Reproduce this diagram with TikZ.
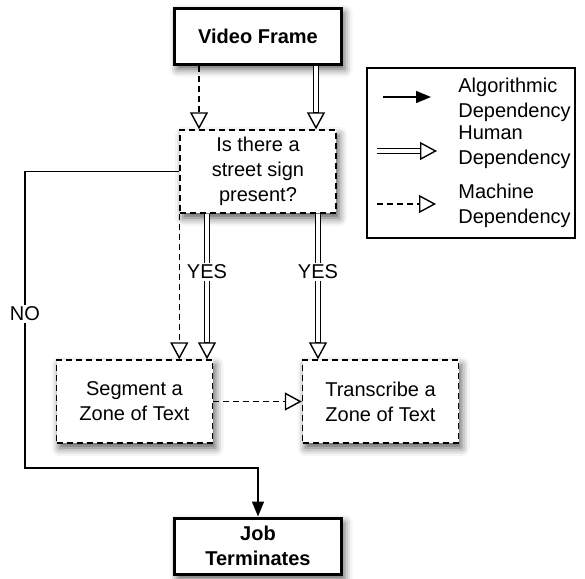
\documentclass[tikz,border=0pt]{standalone}
\usepackage{fontspec}
\setmainfont{Liberation Sans}
\usetikzlibrary{arrows.meta,shadows.blur}

\begin{document}
\begin{tikzpicture}[x=0.5pt, y=-0.5pt,
        font=\fontsize{10}{12.5}\selectfont,
        boxshadow/.style={blur shadow={shadow xshift=1.5pt, shadow yshift=-2.5pt, shadow blur radius=4pt, shadow opacity=65}},
        endbox/.style={draw, line width=1.5pt, fill=white, align=center, minimum width=83.5pt, minimum height=28pt, font=\fontsize{10}{12.5}\selectfont\bfseries, boxshadow},
        taskbox/.style={draw, line width=0.7pt, dash pattern=on 3pt off 2pt, fill=white, align=center, minimum width=78pt, minimum height=41.5pt, boxshadow},
        algo/.style={line width=0.7pt, -{Triangle[length=7.5pt, width=6pt]}},
        human/.style={line width=3.2pt, -{Triangle[open, length=8.5pt, width=9pt, line width'=0.7pt]}, postaction={draw=white, line width=1.8pt, -, shorten >=8.5pt}},
        machine/.style={line width=0.7pt, dash pattern=on 3pt off 2pt, -{Triangle[open, length=8.5pt, width=9pt]}},
        lbl/.style={fill=white, inner sep=1pt}]
        \useasboundingbox (0,0) rectangle (585,579);

        \node[endbox] (vf) at (258,36) {Video Frame};
        \node[taskbox] (q) at (258,171.5) {Is there a\\street sign\\present?};
        \node[taskbox] (seg) at (134.5,401.5) {Segment a\\Zone of Text};
        \node[taskbox] (tr) at (380.5,401.5) {Transcribe a\\Zone of Text};
        \node[endbox] (job) at (258,546) {Job\\Terminates};
        \coordinate (turn) at (25,468);

        \draw[machine] ([xshift=-29.5pt]vf.south) -- ([xshift=-29.5pt]vf.south |- q.north);
        \draw[human] ([xshift=29pt]vf.south) -- ([xshift=29pt]vf.south |- q.north);
        \draw[machine] (q.south west) -- (q.south west |- seg.north);
        \draw[human] ([xshift=-25.5pt]q.south) -- ([xshift=-25.5pt]q.south |- seg.north) node[lbl, pos=0.4] (yes1) {YES};
        \draw[human] ([xshift=30pt]q.south) -- ([xshift=30pt]q.south |- tr.north) node[lbl, pos=0.4] (yes2) {YES};
        \draw[machine] (seg.east) -- (tr.west);
        \draw[algo] (q.west) -| (turn) node[lbl, pos=0.74] (no) {NO} -| (job.north);

        \draw[line width=0.7pt] (367,68) rectangle (575,238);
        \coordinate (la1) at (383,97);
        \coordinate (la2) at (431,97);
        \coordinate (lh1) at (377,151);
        \coordinate (lh2) at (437,151);
        \coordinate (lm1) at (377,204);
        \coordinate (lm2) at (436,204);
        \node[anchor=west, align=left, inner sep=0pt] (lalgo) at (458,99.5) {Algorithmic\\Dependency};
        \node[anchor=west, align=left, inner sep=0pt] (lhum) at (458,147.5) {Human\\Dependency};
        \node[anchor=west, align=left, inner sep=0pt] (lmach) at (458,205.5) {Machine\\Dependency};
        \draw[algo] (la1) -- (la2);
        \draw[human] (lh1) -- (lh2);
        \draw[machine] (lm1) -- (lm2);
\end{tikzpicture}
\end{document}
